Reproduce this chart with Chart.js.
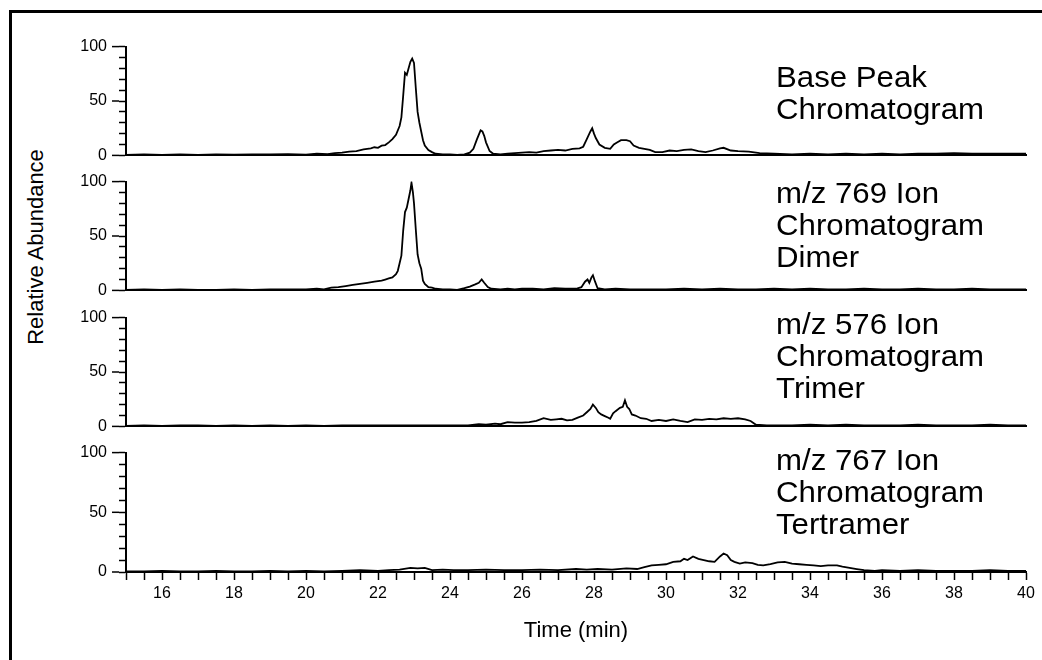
<!DOCTYPE html>
<html>
<head>
<meta charset="utf-8">
<title>Chromatograms</title>
<script src="https://cdn.jsdelivr.net/npm/chart.js@4.4.1/dist/chart.umd.min.js"></script>
<style>
  body { margin: 0; background: #fff; width: 1042px; height: 660px; overflow: hidden; position: relative; font-family: "Liberation Sans", Arial, sans-serif; color: #000; }
  #frame { position: absolute; left: 9px; top: 10px; width: 1200px; height: 800px; border-left: 3px solid #000; border-top: 3px solid #000; }
  canvas { position: absolute; left: 0; }
  .tag { position: absolute; left: 776px; font-size: 30px; line-height: 32px; white-space: nowrap; transform: scaleX(1.04); transform-origin: left top; }
  #ytitle { position: absolute; left: 36px; top: 247px; transform: translate(-50%, -50%) rotate(-90deg); font-size: 22px; white-space: nowrap; }
</style>
</head>
<body>
<div id="frame"></div>
<div id="ytitle">Relative Abundance</div>
<canvas id="p0"></canvas>
<canvas id="p1"></canvas>
<canvas id="p2"></canvas>
<canvas id="p3"></canvas>
<div class="tag" id="t0"></div>
<div class="tag" id="t1"></div>
<div class="tag" id="t2"></div>
<div class="tag" id="t3"></div>
<script>
// [time (min), relative abundance]
const basePeak = [[15,0.5],[15.5,1],[16,0.5],[16.5,1],[17,0.5],[17.5,1],[18,0.8],[18.5,1],[19,1],[19.5,1.2],[20,0.8],[20.3,1.5],[20.6,1.2],[20.8,2],[21,2.5],[21.2,3.5],[21.4,4],[21.6,5.5],[21.8,6.5],[21.9,7.5],[22,7],[22.1,9],[22.2,9.5],[22.3,12],[22.4,15],[22.5,19],[22.6,27],[22.65,35],[22.7,55],[22.75,76],[22.8,74],[22.85,80],[22.9,86],[22.95,89],[23,85],[23.05,62],[23.1,40],[23.15,30],[23.2,22],[23.25,14],[23.3,9],[23.4,5],[23.5,3],[23.6,1.5],[23.8,1],[24,1],[24.2,0.5],[24.4,1],[24.55,2.5],[24.65,6],[24.75,15],[24.85,23],[24.9,22],[24.95,18],[25,12],[25.1,4],[25.2,1.5],[25.4,1],[25.6,1.5],[25.8,2],[26,2.5],[26.2,3],[26.4,2.5],[26.6,4],[26.8,4.5],[27,5],[27.2,4.5],[27.4,6],[27.6,6.5],[27.7,8],[27.8,15],[27.9,22],[27.95,25],[28,20],[28.05,16],[28.15,10],[28.3,7],[28.45,6],[28.55,10],[28.65,12],[28.75,14],[28.9,14],[29,13],[29.1,9],[29.25,7],[29.4,6],[29.55,5],[29.7,3],[29.9,3],[30.1,4.5],[30.3,4],[30.5,5],[30.7,5.5],[30.9,4],[31.1,3],[31.3,4.5],[31.5,6.5],[31.6,7],[31.8,4.5],[32,4],[32.3,3.5],[32.6,2],[33,1.5],[33.5,1],[34,1.5],[34.5,1],[35,1.5],[35.5,1],[36,1.5],[36.5,1],[37,1.5],[37.5,1.5],[38,2],[38.5,1.5],[39,1.5],[39.5,1.5],[40,1.5]];

const dimer = [[15,0.5],[15.5,1],[16,0.5],[16.5,1],[17,0.5],[17.5,0.5],[18,1],[18.5,0.5],[19,1],[19.5,1],[20,1],[20.3,1.5],[20.5,1],[20.7,2.5],[20.9,3],[21.1,4],[21.3,5],[21.5,6],[21.7,7],[21.9,8],[22.1,9],[22.2,10],[22.3,11],[22.4,12],[22.5,15],[22.55,18],[22.6,25],[22.65,32],[22.7,55],[22.75,72],[22.8,76],[22.85,84],[22.9,92],[22.93,99],[22.97,90],[23,80],[23.05,56],[23.1,33],[23.15,25],[23.2,20],[23.25,9],[23.3,6],[23.4,3],[23.5,2.5],[23.6,1.5],[23.8,1],[24,1],[24.2,0.5],[24.4,2],[24.55,3.5],[24.7,5.5],[24.8,7],[24.88,10],[24.95,7],[25.05,3],[25.15,1.5],[25.4,1],[25.6,1.5],[25.8,1],[26,1.5],[26.3,1.5],[26.6,1],[26.9,2],[27.2,1.5],[27.5,1.5],[27.65,3],[27.75,8],[27.82,10],[27.87,7],[27.93,12],[27.97,14],[28.03,8],[28.1,2],[28.3,1],[28.6,1.5],[29,1],[29.5,1],[30,1],[30.5,1.5],[31,1],[31.5,1.5],[32,1],[32.5,1],[33,1.5],[33.5,1],[34,1.5],[34.5,1],[35,1],[35.5,1.5],[36,1],[36.5,1],[37,1.5],[37.5,1],[38,1],[38.5,1.5],[39,1],[39.5,1],[40,1]];

const trimer = [[15,0.5],[15.5,1],[16,0.5],[16.5,1],[17,1],[17.5,0.5],[18,1],[18.5,0.5],[19,1],[19.5,0.5],[20,1],[20.5,0.5],[21,1],[21.5,1],[22,1],[22.5,1],[23,1],[23.5,1],[24,1],[24.5,1],[24.8,2],[25,1.5],[25.25,2.5],[25.4,2],[25.6,4],[25.8,3.5],[26,3.5],[26.2,4],[26.4,5],[26.6,7.5],[26.8,6],[26.95,6.5],[27.1,7],[27.25,5.5],[27.4,6],[27.55,8],[27.7,10],[27.8,13],[27.9,16],[27.97,20],[28.05,17],[28.12,13],[28.2,11],[28.3,9.5],[28.4,8],[28.45,7],[28.53,12],[28.6,14],[28.72,17],[28.8,18],[28.86,24],[28.92,18],[28.98,16],[29.05,11],[29.15,10],[29.3,7.5],[29.45,7],[29.6,5],[29.8,6],[30,5],[30.2,6.5],[30.4,5],[30.6,4],[30.8,6.5],[31,6],[31.2,7],[31.4,6.5],[31.6,7.5],[31.8,7],[32,7.5],[32.2,6.5],[32.35,5],[32.5,1.5],[32.8,1],[33,1],[33.5,1],[34,1.5],[34.5,1],[35,1.5],[35.5,1],[36,1],[36.5,1],[37,1.5],[37.5,1],[38,1],[38.5,1],[39,1.5],[39.5,1],[40,1]];

const tertramer = [[15,0.5],[15.5,0.5],[16,1],[16.5,0.5],[17,0.5],[17.5,1],[18,0.5],[18.5,0.5],[19,1],[19.5,0.5],[20,1],[20.5,0.5],[21,1],[21.5,1.5],[22,1],[22.3,1.5],[22.6,2],[22.9,3.5],[23.1,3],[23.3,3.5],[23.5,1.5],[23.8,2],[24.1,1.5],[24.5,1.5],[25,2],[25.5,1.5],[26,1.5],[26.5,2],[27,1.5],[27.5,2.5],[27.8,2],[28.1,2.5],[28.5,2],[28.9,3],[29.2,2.5],[29.4,4],[29.6,5.5],[29.8,6],[30,6.5],[30.2,8.5],[30.4,9],[30.5,11],[30.6,10],[30.75,13],[30.9,11],[31.05,10],[31.2,9],[31.35,8.5],[31.5,13],[31.6,15.5],[31.7,14],[31.8,10],[31.9,8.5],[32.05,7],[32.2,8],[32.4,7.5],[32.55,6],[32.7,5.5],[32.9,6.5],[33.1,8],[33.3,8.5],[33.5,7],[33.7,6.5],[33.9,6],[34.1,5.5],[34.3,5],[34.5,5.5],[34.75,5.5],[34.9,4.5],[35.1,3.5],[35.3,2.5],[35.5,1.5],[35.8,1],[36,1.5],[36.5,1],[37,1.5],[37.5,1],[38,1],[38.5,1],[39,1.5],[39.5,1],[40,1]];

const seriesList = [basePeak, dimer, trimer, tertramer];
const panelNames = [
  ["Base Peak", "Chromatogram"],
  ["m/z 769 Ion", "Chromatogram", "Dimer"],
  ["m/z 576 Ion", "Chromatogram", "Trimer"],
  ["m/z 767 Ion", "Chromatogram", "Tertramer"]
];
const yLabelValues = [0, 50, 100];
const xLabelValues = [16, 18, 20, 22, 24, 26, 28, 30, 32, 34, 36, 38, 40];

// layout of the four stacked panels (page pixels)
const plotTops = [40, 175, 311, 446];
const plotBottoms = [165, 300, 436, 572];
const tagTops = [61, 177, 308, 444];
const PAD_TOP = 15;
const tickFont = { family: "'Liberation Sans', Arial, sans-serif", size: 16 };

// longer tick marks at 0, 50 and 100
const majorTicks = {
  id: 'majorTicks',
  afterDraw(chart) {
    const y = chart.scales.y;
    const ctx = chart.ctx;
    ctx.save();
    ctx.strokeStyle = '#000';
    ctx.lineWidth = 1.5;
    y.ticks.forEach(t => {
      if (yLabelValues.includes(t.value)) {
        const py = y.getPixelForValue(t.value);
        ctx.beginPath();
        ctx.moveTo(y.right - 14, py);
        ctx.lineTo(y.right - 7, py);
        ctx.stroke();
      }
    });
    ctx.restore();
  }
};

seriesList.forEach((series, i) => {
  const isBottom = i === seriesList.length - 1;
  const canvas = document.getElementById('p' + i);
  const top = plotTops[i] - PAD_TOP;
  const bottom = isBottom ? 660 : plotBottoms[i] + 12;
  canvas.width = 1042;
  canvas.height = bottom - top;
  canvas.style.top = top + 'px';
  const xHeight = isBottom ? 660 - plotBottoms[i] : 0;

  const tag = document.getElementById('t' + i);
  tag.innerHTML = panelNames[i].join('<br>');
  tag.style.top = tagTops[i] + 'px';

  new Chart(canvas, {
    type: 'line',
    data: {
      datasets: [{
        data: series.map(p => ({ x: p[0], y: p[1] })),
        borderColor: '#000',
        borderWidth: 1.8,
        pointRadius: 0,
        tension: 0,
        fill: false
      }]
    },
    options: {
      responsive: false,
      animation: false,
      devicePixelRatio: 1,
      layout: { padding: { top: PAD_TOP, right: 16, bottom: isBottom ? 0 : 12, left: 0 } },
      plugins: { legend: { display: false }, tooltip: { enabled: false } },
      scales: {
        x: {
          type: 'linear',
          min: 15,
          max: 40,
          grid: { display: isBottom, drawOnChartArea: false, drawTicks: true, tickLength: 8, tickColor: '#000', tickWidth: 1.5 },
          border: { display: true, color: '#000', width: 2 },
          ticks: {
            display: isBottom,
            stepSize: 0.5,
            autoSkip: false,
            maxRotation: 0,
            color: '#000',
            font: tickFont,
            padding: 4,
            callback: v => xLabelValues.find(l => Math.abs(l - v) < 1e-6) ?? ''
          },
          title: {
            display: isBottom,
            text: 'Time (min)',
            color: '#000',
            font: { family: "'Liberation Sans', Arial, sans-serif", size: 22 },
            padding: { top: 4, bottom: 16 }
          },
          afterFit: s => { s.height = xHeight; }
        },
        y: {
          min: 0,
          max: 100,
          grid: { drawOnChartArea: false, drawTicks: true, tickLength: 7, tickColor: '#000', tickWidth: 1.5 },
          border: { display: true, color: '#000', width: 2 },
          ticks: {
            stepSize: 10,
            autoSkip: false,
            color: '#000',
            font: tickFont,
            padding: 12,
            callback: v => yLabelValues.includes(v) ? String(v) : ''
          },
          afterFit: s => { s.width = 126; }
        }
      }
    },
    plugins: [majorTicks]
  });
});
</script>
</body>
</html>
